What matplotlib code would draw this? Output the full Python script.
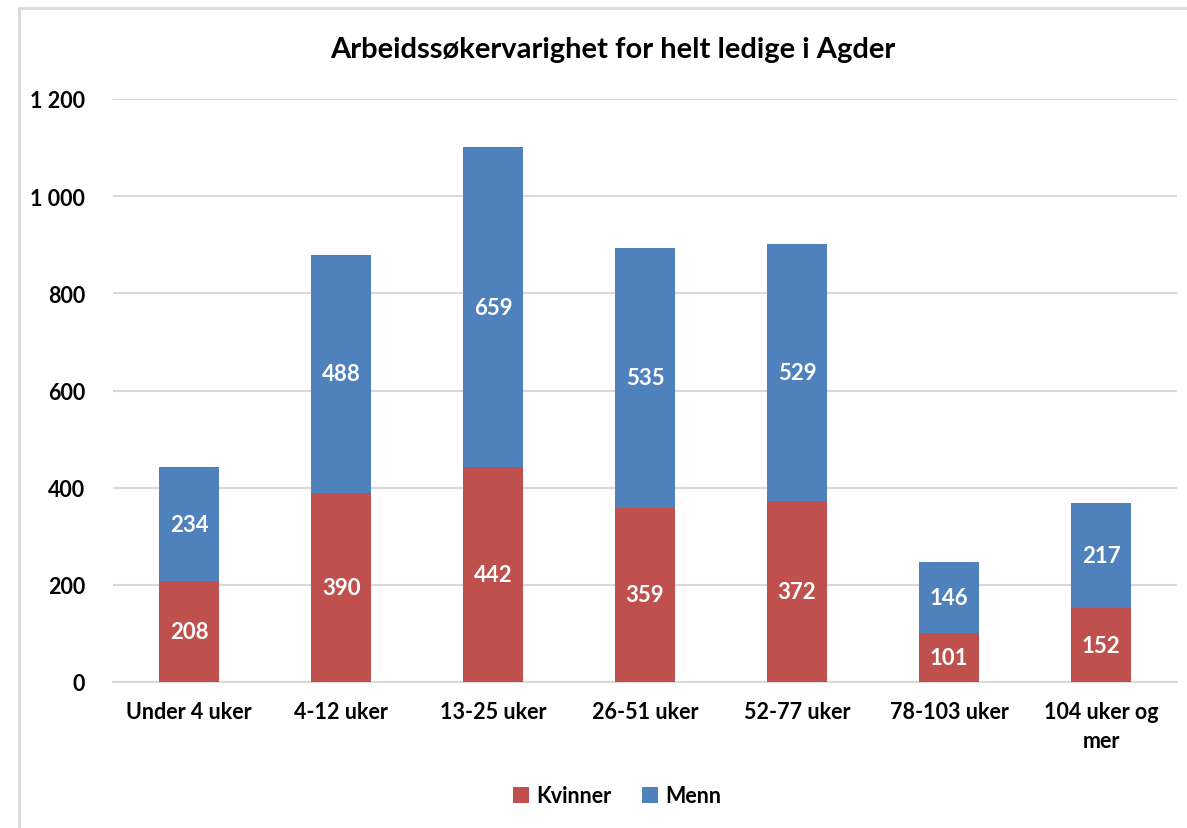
import matplotlib
matplotlib.use("Agg")
import matplotlib.pyplot as plt
from matplotlib.patches import Rectangle
from matplotlib.ticker import FuncFormatter
import numpy as np

plt.rcParams['font.family'] = ['Lato', 'DejaVu Sans']

kategorier = ["Under 4 uker", "4-12 uker", "13-25 uker", "26-51 uker",
              "52-77 uker", "78-103 uker", "104 uker og\nmer"]
kvinner = [208, 390, 442, 359, 372, 101, 152]
menn = [234, 488, 659, 535, 529, 146, 217]

red = "#C0504D"
blue = "#4F81BD"
grid = "#D9D9D9"

fig = plt.figure(figsize=(11.87, 8.29), dpi=100)
ax = fig.add_axes([113/1187, 1-683/829, (1177-113)/1187, (683-100)/829])

x = np.arange(len(kategorier))
b1 = ax.bar(x, kvinner, width=0.395, color=red, label="Kvinner", zorder=3)
b2 = ax.bar(x, menn, width=0.395, bottom=kvinner, color=blue, label="Menn", zorder=3)

for bars, vals, base in [(b1, kvinner, [0]*7), (b2, menn, kvinner)]:
    for r, v, b in zip(bars, vals, base):
        ax.text(r.get_x() + r.get_width()/2, b + v/2, str(v), ha="center", va="center",
                color="white", fontsize=16, fontweight="bold", zorder=4)

ax.set_xlim(-0.5, len(kategorier) - 0.5)
ax.set_ylim(0, 1200)
ax.set_yticks(range(0, 1201, 200))
ax.yaxis.set_major_formatter(FuncFormatter(lambda v, p: f"{int(v):,}".replace(",", " ")))
ax.set_xticks(x)
ax.set_xticklabels(kategorier, fontsize=15.5, fontweight="bold", linespacing=1.45)
for lab in ax.get_yticklabels():
    lab.set_fontsize(15.5)
    lab.set_fontweight("bold")
ax.tick_params(axis="both", length=0)
ax.tick_params(axis="y", pad=20)
ax.tick_params(axis="x", pad=14)
ax.grid(axis="y", color=grid, linewidth=1.5, zorder=0)
for s in ["top", "right", "left"]:
    ax.spines[s].set_visible(False)
ax.spines["bottom"].set_color(grid)
ax.spines["bottom"].set_linewidth(1.5)

fig.text(613/1187, 1-50/829, "Arbeidssøkervarighet for helt ledige i Agder",
         ha="center", va="center", fontsize=21, fontweight="bold")

fig.legend(handles=[b1, b2], loc="center", bbox_to_anchor=(617/1187, 1-797/829),
           ncol=2, frameon=False, prop={"size": 15.5, "weight": "bold"},
           handlelength=0.75, handleheight=0.75, handletextpad=0.35, columnspacing=1.4)

fig.patches.append(Rectangle((19/1187, -0.1), 1.2, 1-9/829+0.1, transform=fig.transFigure,
                             fill=False, edgecolor=grid, linewidth=2))

fig.savefig("out.png", dpi=100)
